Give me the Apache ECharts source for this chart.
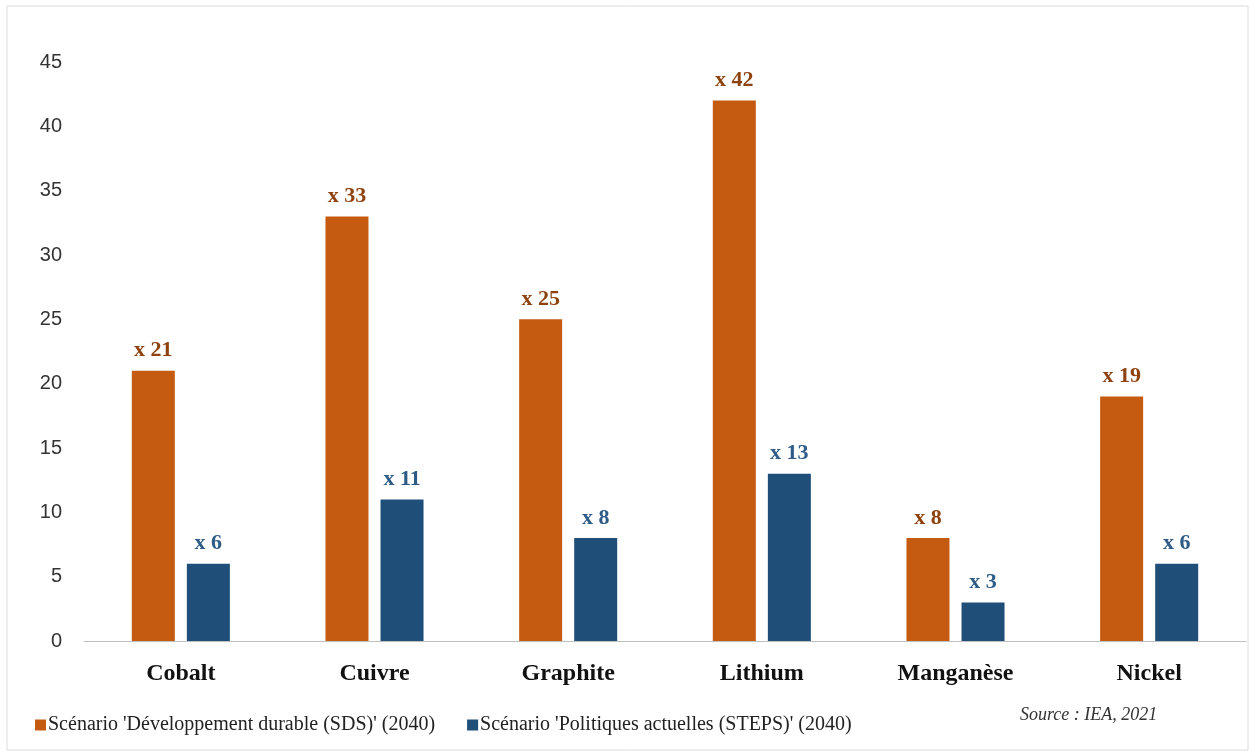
<!DOCTYPE html>
<html lang="fr">
<head>
    <meta charset="UTF-8">
    <title>Demande de minerais</title>
    <script src="https://cdn.jsdelivr.net/npm/echarts@6/dist/echarts.min.js"></script>
    <style>
        html, body { margin: 0; padding: 0; background: #fff; }
        #chart { width: 1255px; height: 756px; }
    </style>
</head>
<body>
<div id="chart"></div>
<script>
    // données (IEA, 2021)
    var categories = ['Cobalt', 'Cuivre', 'Graphite', 'Lithium', 'Manganèse', 'Nickel'];
    var sdsValues = [21, 33, 25, 42, 8, 19];
    var stepsValues = [6, 11, 8, 13, 3, 6];
    var seriesNames = [
        "Scénario 'Développement durable (SDS)' (2040)",
        "Scénario 'Politiques actuelles (STEPS)' (2040)"
    ];

    var serif = '"Liberation Serif", "DejaVu Serif", serif';
    var chart = echarts.init(document.getElementById('chart'));

    function labelFmt(p) {
        return 'x ' + p.value;
    }

    chart.setOption({
        backgroundColor: '#ffffff',
        animation: false,
        grid: { left: 84, right: 9, top: 62, bottom: 115 },
        legend: {
            left: 30,
            top: 710,
            itemWidth: 11,
            itemHeight: 11,
            itemGap: 32,
            icon: 'rect',
            textStyle: { fontFamily: serif, fontSize: 20, color: '#222', padding: [0, 0, 0, -3] },
            data: seriesNames
        },
        graphic: [
            {
                type: 'rect',
                shape: { x: 7, y: 6, width: 1241, height: 744 },
                style: { fill: 'none', stroke: '#dcdcdc', lineWidth: 1 },
                silent: true
            },
            {
                type: 'text',
                left: 1020,
                top: 706,
                style: {
                    text: 'Source : IEA, 2021',
                    font: 'italic 18px ' + serif,
                    fill: '#333'
                }
            }
        ],
        xAxis: {
            type: 'category',
            data: categories,
            axisTick: { show: false },
            axisLine: { lineStyle: { color: '#bfbfbf', width: 1 } },
            axisLabel: {
                margin: 21,
                fontFamily: serif,
                fontWeight: 'bold',
                fontSize: 24,
                color: '#111'
            }
        },
        yAxis: {
            type: 'value',
            min: 0,
            max: 45,
            interval: 5,
            splitLine: { show: false },
            axisLine: { show: false },
            axisTick: { show: false },
            axisLabel: {
                margin: 22,
                fontFamily: '"Liberation Sans", Arial, sans-serif',
                fontSize: 20,
                color: '#333'
            }
        },
        series: [
            {
                name: seriesNames[0],
                type: 'bar',
                data: sdsValues,
                barWidth: 43,
                barGap: '28%',
                itemStyle: { color: '#C55A11' },
                label: {
                    show: true,
                    position: 'top',
                    distance: 9,
                    formatter: labelFmt,
                    fontFamily: serif,
                    fontWeight: 'bold',
                    fontSize: 22,
                    color: '#8E430F'
                }
            },
            {
                name: seriesNames[1],
                type: 'bar',
                data: stepsValues,
                barWidth: 43,
                itemStyle: { color: '#1F4E79' },
                label: {
                    show: true,
                    position: 'top',
                    distance: 9,
                    formatter: labelFmt,
                    fontFamily: serif,
                    fontWeight: 'bold',
                    fontSize: 22,
                    color: '#2E5C87'
                }
            }
        ]
    });
</script>
</body>
</html>
